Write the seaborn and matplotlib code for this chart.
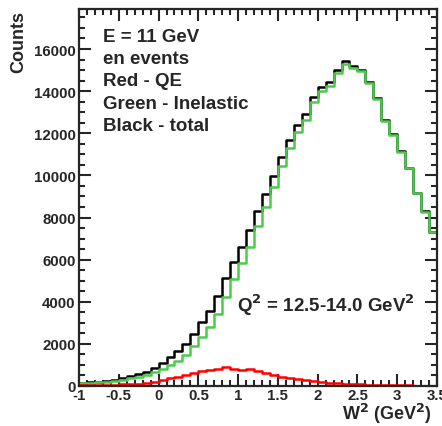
import pandas as pd
import matplotlib
matplotlib.use("Agg")
import matplotlib.pyplot as plt
import seaborn as sns
from matplotlib.ticker import MultipleLocator, FuncFormatter

# W^2 bins: 45 bins of 0.1 GeV^2 from -1 to 3.5
edges = [round(-1.0 + 0.1 * i, 2) for i in range(46)]
centers = [round((edges[i] + edges[i + 1]) / 2, 3) for i in range(45)]

total = [160, 180, 210, 250, 300, 365, 460, 560, 680, 870,
         1110, 1380, 1660, 1980, 2470, 3020, 3560, 4260, 5110, 5900,
         6580, 7420, 8330, 9100, 9960, 10890, 11700, 12370, 12920, 13740,
         14180, 14420, 14980, 15420, 15210, 15025, 14450, 13660, 12635, 11970,
         11150, 10355, 9170, 8300, 7330]
qe = [30, 35, 40, 50, 60, 75, 95, 110, 140, 190,
      280, 380, 450, 500, 620, 710, 770, 830, 890, 830,
      750, 800, 730, 600, 525, 440, 380, 330, 285, 240,
      190, 160, 140, 110, 95, 80, 65, 55, 45, 40,
      30, 25, 20, 15, 10]
inelastic = [130, 145, 170, 200, 240, 290, 365, 450, 540, 680,
             830, 1000, 1210, 1480, 1900, 2340, 2790, 3430, 4220, 5070,
             5830, 6620, 7600, 8500, 9435, 10450, 11320, 12040, 12635, 13500,
             13990, 14260, 14840, 15310, 15115, 14945, 14385, 13605, 12590, 11930,
             11120, 10330, 9150, 8285, 7320]

df = pd.DataFrame({"w2": centers, "total": total, "qe": qe, "inelastic": inelastic})

sns.set_style("ticks")
plt.rcParams["font.family"] = ["Liberation Sans", "DejaVu Sans"]
plt.rcParams["font.weight"] = "bold"
plt.rcParams["mathtext.default"] = "bf"
plt.rcParams["axes.unicode_minus"] = False

fig = plt.figure(figsize=(4.42, 4.27), dpi=100)
ax = fig.add_axes([79 / 442, 1 - 387 / 427, 358 / 442, 377 / 427])

for col, colour in [("total", "black"), ("inelastic", "#4ec94e"), ("qe", "#ff0000")]:
    sns.histplot(data=df, x="w2", weights=col, bins=edges, element="step", fill=False,
                 color=colour, linewidth=1.8, ax=ax)

ax.set_xlim(-1, 3.5)
ax.set_ylim(0, 17900)
ax.set_xlabel("")
ax.set_ylabel("")

ax.xaxis.set_major_locator(MultipleLocator(0.5))
ax.xaxis.set_minor_locator(MultipleLocator(0.1))
ax.yaxis.set_major_locator(MultipleLocator(2000))
ax.yaxis.set_minor_locator(MultipleLocator(500))
ax.xaxis.set_major_formatter(FuncFormatter(lambda v, p: "%g" % v))
ax.yaxis.set_major_formatter(FuncFormatter(lambda v, p: "%d" % v))

ax.tick_params(which="both", direction="in", top=True, right=True, width=1.5)
ax.tick_params(which="major", length=8.5)
ax.tick_params(which="minor", length=4.5)
ax.tick_params(axis="x", which="major", labelsize=10.8, pad=1.5)
ax.tick_params(axis="y", which="major", labelsize=10.8, pad=2.5)
for lab in ax.get_xticklabels() + ax.get_yticklabels():
    lab.set_fontweight("bold")
for sp in ax.spines.values():
    sp.set_linewidth(1.6)
    sp.set_visible(True)

lines = ["E = 11 GeV", "en events", "Red - QE", "Green - Inelastic", "Black - total"]
for i, t in enumerate(lines):
    fig.text(103 / 442, 1 - (41.7 + 22.3 * i) / 427, t, fontsize=13.5,
             fontweight="bold", va="baseline", ha="left")

fig.text(237 / 442, 1 - 311.7 / 427, r"Q$^2$ = 12.5-14.0 GeV$^2$", fontsize=13.5,
         fontweight="bold", va="baseline", ha="left")

fig.text(432 / 442, 1 - 420 / 427, r"W$^2$ (GeV$^2$)", fontsize=13,
         fontweight="bold", va="baseline", ha="right")
fig.text(19 / 442, 1 - 11 / 427, "Counts", fontsize=13, fontweight="bold",
         rotation=90, va="top", ha="center")

fig.savefig("out.png", dpi=100)
